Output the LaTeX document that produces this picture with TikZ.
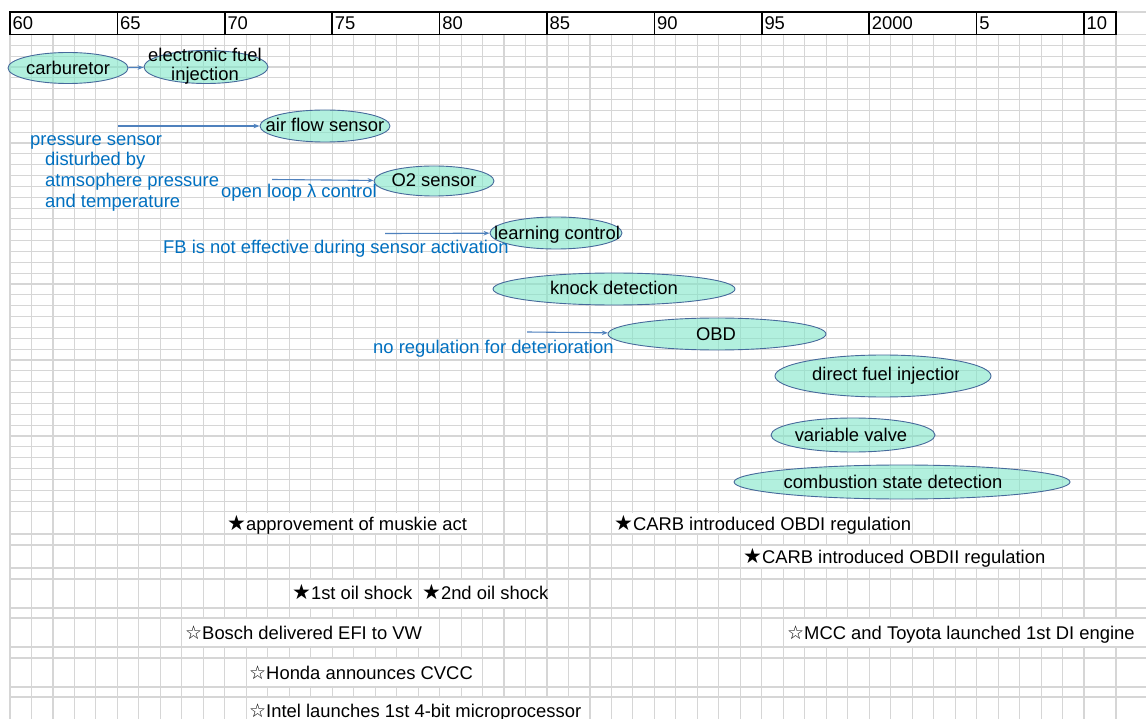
\documentclass[tikz,border=0pt]{standalone}
\usepackage{fontspec}
\setmainfont{Liberation Sans}
\newfontfamily\symfont{DejaVu Sans}
\usetikzlibrary{shapes.geometric,arrows.meta}
\definecolor{gridgray}{RGB}{214,214,214}
\definecolor{ellfill}{RGB}{128,230,200}
\definecolor{ellblue}{RGB}{70,105,155}
\definecolor{noteblue}{RGB}{0,112,192}
\definecolor{arrowblue}{RGB}{79,129,189}
\newcommand\evfull{{\symfont\fontsize{21}{20}\selectfont\char"2605}}
\newcommand\evopen{{\symfont\fontsize{19}{20}\selectfont\char"2606}}
\begin{document}
\begin{tikzpicture}[x=1pt,y=-1pt,
  gridline/.style={draw=gridgray,line width=1.1pt},
  hdr/.style={draw=black,line width=1.6pt},
  hdrtext/.style={anchor=base west,inner sep=0pt,font=\fontsize{18.4}{20}\selectfont},
  tech/.style={ellipse,draw=ellblue,line width=0.9pt,fill=ellfill,fill opacity=0.6,inner sep=0pt},
  techtext/.style={anchor=base,inner sep=0pt,font=\fontsize{18.4}{20}\selectfont,text=black},
  note/.style={anchor=base west,inner sep=0pt,text=noteblue,font=\fontsize{18.4}{20}\selectfont},
  conn/.style={draw=arrowblue,line width=1.1pt,-{Stealth[length=6pt,width=4.5pt]}},
  event/.style={anchor=base west,inner sep=0pt,font=\fontsize{18.4}{20}\selectfont},
  cellbg/.style={fill=white,draw=none}]
\useasboundingbox[fill=white] (0,0) rectangle (1146,719);

% spreadsheet grid
\foreach \k in {0,...,50}
  \draw[gridline] ({10+21.48*\k},34.5) -- ({10+21.48*\k},719);
\draw[gridline] (1116,12) -- (1116,719);
\foreach \k in {1,...,44}
  \draw[gridline] (10,{34.5+10.85*\k}) -- (1146,{34.5+10.85*\k});
\foreach \yy in {534,545,568,579,608,618,647,658,687,697}
  \draw[gridline] (10,\yy) -- (1146,\yy);
\draw[gridline] (1116,12) -- (1146,12);
\draw[gridline] (1116,34.5) -- (1146,34.5);

% year header
\foreach \k/\lab in {0/60,1/65,2/70,3/75,4/80,5/85,6/90,7/95,8/2000,9/5}{
  \draw[hdr] ({10+107.4*\k},12) rectangle ({10+107.4*(\k+1)},34.5);
  \node[hdrtext] (h\k) at ({12.5+107.4*\k},30) {\lab};
}
\draw[hdr] (1084,12) rectangle (1116,34.5);
\node[hdrtext] (h10) at (1086.5,30) {10};

% technology ellipses
\node[tech,minimum width=120,minimum height=31] (carb) at (68,68) {};
\node[tech,minimum width=124,minimum height=33] (efi) at (206,67) {};
\node[tech,minimum width=130,minimum height=32] (afs) at (325,126) {};
\node[tech,minimum width=120,minimum height=30] (o2) at (434,181) {};
\node[tech,minimum width=132,minimum height=32] (learn) at (556,233) {};
\node[tech,minimum width=242,minimum height=32] (knock) at (614,289) {};
\node[tech,minimum width=218,minimum height=32] (obd) at (717,334) {};
\node[tech,minimum width=216,minimum height=42] (dfi) at (883,376) {};
\node[tech,minimum width=164,minimum height=34] (vv) at (853,435) {};
\node[tech,minimum width=336,minimum height=34] (csd) at (902,482) {};

\node[techtext] (carbt) at (68,75) {carburetor};
\node[techtext] (efit1) at (205,62) {electronic fuel};
\node[techtext] (efit2) at (205,81) {injection};
\node[techtext] (afst) at (325,132) {air flow sensor};
\node[techtext] (o2t) at (434,187) {O2 sensor};
\node[techtext] (learnt) at (557,240) {learning control};
\node[techtext] (knockt) at (614,295) {knock detection};
\node[techtext] (obdt) at (716,341) {OBD};
\begin{scope}
  \clip (800,355) rectangle (958,400);
  \node[techtext,anchor=base west] (dfit) at (812,381) {direct fuel injection};
\end{scope}
\node[techtext] (vvt) at (851,441.5) {variable valve};
\node[techtext] (csdt) at (893,488) {combustion state detection};

% motivations
\node[note] (n1a) at (30,146) {pressure sensor};
\node[note] (n1b) at (45,166) {disturbed by};
\node[note] (n1c) at (45,187) {atmsophere pressure};
\node[note] (n1d) at (45,207.5) {and temperature};
\node[note] (n2) at (221,198) {open loop λ control};
\node[note] (n3) at (163,254) {FB is not effective during sensor activation};
\node[note] (n4) at (373,353) {no regulation for deterioration};

% connectors
\coordinate (s1) at (118,126);
\coordinate (s2) at (272,179.5);
\coordinate (s3) at (385,233.5);
\coordinate (s4) at (527,332);
\draw[conn] (carb) -- (efi);
\draw[conn] (s1) -- (afs);
\draw[conn] (s2) -- (o2);
\draw[conn] (s3) -- (learn);
\draw[conn] (s4) -- (obd);

% event cells
\fill[cellbg] (225.8,513) rectangle (481.6,533);
\fill[cellbg] (612.4,513) rectangle (911.2,533);
\fill[cellbg] (741.3,546) rectangle (1061.5,567);
\fill[cellbg] (290.2,580) rectangle (546,607);
\fill[cellbg] (182.8,619) rectangle (438.6,646);
\fill[cellbg] (784.3,619) rectangle (1146,646);
\fill[cellbg] (247.3,659) rectangle (481.6,686);
\fill[cellbg] (247.3,698) rectangle (589,719);
\draw[gridline] (418.1,579) -- (418.1,608);

\node[event] (e1) at (227,530) {\evfull approvement of muskie act};
\node[event] (e2) at (614,530) {\evfull CARB introduced OBDI regulation};
\node[event] (e3) at (743,563) {\evfull CARB introduced OBDII regulation};
\node[event] (e4) at (292,599.5) {\evfull 1st oil shock};
\node[event] (e5) at (422,599.5) {\evfull 2nd oil shock};
\node[event] (e6) at (185,639.5) {\evopen Bosch delivered EFI to VW};
\node[event] (e7) at (787,639.5) {\evopen MCC and Toyota launched 1st DI engine};
\node[event] (e8) at (249,679) {\evopen Honda announces CVCC};
\node[event] (e9) at (249,717) {\evopen Intel launches 1st 4-bit microprocessor};
\end{tikzpicture}
\end{document}
